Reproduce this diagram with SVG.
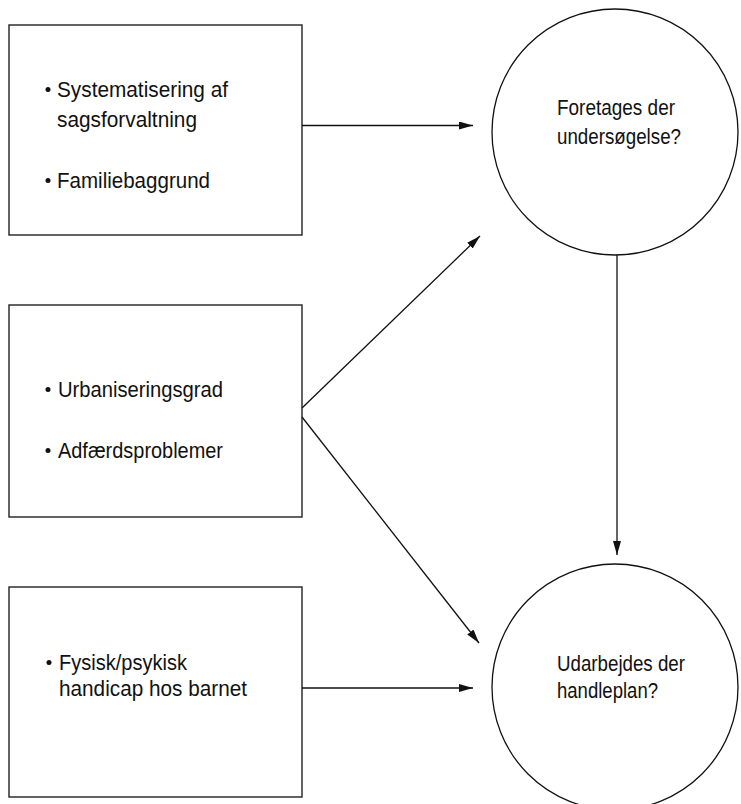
<svg xmlns="http://www.w3.org/2000/svg" width="741" height="804" viewBox="0 0 741 804">
  <style>
    .box { fill: #fff; stroke: #222; stroke-width: 1.4; }
    .circ { fill: #fff; stroke: #111; stroke-width: 1.3; }
    .t { font-family: "Liberation Sans", Arial, sans-serif; font-size: 21.5px; fill: #111; }
    .bul { fill: #111; }
    .conn { stroke: #111; stroke-width: 1.3; fill: none; marker-end: url(#arr); }
  </style>
  <defs>
    <marker id="arr" markerUnits="userSpaceOnUse" markerWidth="15" markerHeight="9" refX="14" refY="4" orient="auto">
      <path d="M0,0 L14,4 L0,8 Z" fill="#111"/>
    </marker>
  </defs>
  <rect width="741" height="804" fill="#fff"/>

  <g id="box1">
    <rect class="box" x="9" y="25" width="293" height="210"/>
    <circle class="bul" cx="48" cy="89.5" r="2.5"/>
    <text class="t" x="57" y="97" textLength="171" lengthAdjust="spacingAndGlyphs">Systematisering af</text>
    <text class="t" x="57" y="127" textLength="140" lengthAdjust="spacingAndGlyphs">sagsforvaltning</text>
    <circle class="bul" cx="48" cy="180.5" r="2.5"/>
    <text class="t" x="57" y="188" textLength="153" lengthAdjust="spacingAndGlyphs">Familiebaggrund</text>
  </g>

  <g id="box2">
    <rect class="box" x="9" y="305" width="293" height="212"/>
    <circle class="bul" cx="48" cy="389.5" r="2.5"/>
    <text class="t" x="58" y="397" textLength="165" lengthAdjust="spacingAndGlyphs">Urbaniseringsgrad</text>
    <circle class="bul" cx="48" cy="450.5" r="2.5"/>
    <text class="t" x="58" y="458" textLength="165" lengthAdjust="spacingAndGlyphs">Adfærdsproblemer</text>
  </g>

  <g id="box3">
    <rect class="box" x="9" y="587" width="293" height="210"/>
    <circle class="bul" cx="49" cy="662.5" r="2.5"/>
    <text class="t" x="59" y="670" textLength="128" lengthAdjust="spacingAndGlyphs">Fysisk/psykisk</text>
    <text class="t" x="59" y="696" textLength="188" lengthAdjust="spacingAndGlyphs">handicap hos barnet</text>
  </g>

  <g id="circle1">
    <circle class="circ" cx="615" cy="132" r="123"/>
    <text class="t" x="557" y="115" textLength="118" lengthAdjust="spacingAndGlyphs">Foretages der</text>
    <text class="t" x="557" y="144" textLength="124" lengthAdjust="spacingAndGlyphs">undersøgelse?</text>
  </g>

  <g id="circle2">
    <circle class="circ" cx="615" cy="687" r="123"/>
    <text class="t" x="557" y="671" textLength="128" lengthAdjust="spacingAndGlyphs">Udarbejdes der</text>
    <text class="t" x="557" y="698" textLength="101" lengthAdjust="spacingAndGlyphs">handleplan?</text>
  </g>

  <g id="connectors">
    <line class="conn" x1="302" y1="125.5" x2="473" y2="125.5"/>
    <line class="conn" x1="302" y1="408" x2="480" y2="236"/>
    <line class="conn" x1="302" y1="417" x2="479" y2="643"/>
    <line class="conn" x1="617" y1="255" x2="617" y2="555"/>
    <line class="conn" x1="302" y1="688" x2="473" y2="688"/>
  </g>
</svg>
